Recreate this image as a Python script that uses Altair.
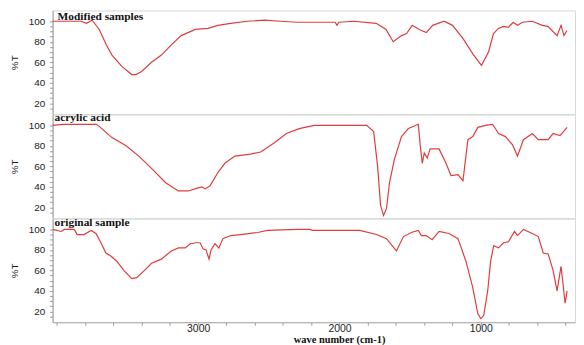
import altair as alt
import pandas as pd

# ---- data (wavenumber cm-1, %T) ----
modified_wn = [4030, 3830, 3790, 3750, 3700, 3650, 3610, 3540, 3470, 3440, 3400, 3330, 3260, 3190,
               3120, 3020, 2930, 2860, 2770, 2650, 2530, 2420, 2300, 2030, 2018, 2005, 1900, 1740,
               1670, 1620, 1560, 1525, 1485, 1435, 1385, 1340, 1260, 1200, 1125, 1055, 995, 945,
               910, 875, 840, 805, 770, 740, 705, 635, 565, 525, 460, 432, 411, 390]
modified_t = [100, 100, 98, 101, 92, 77, 67, 56, 48, 48, 51, 60, 67, 77,
              86, 92, 93, 96, 98, 100, 101, 100, 99, 99, 96, 99, 100, 98,
              92, 80, 86, 88, 96, 92, 89, 96, 100, 96, 83, 68, 57, 70,
              88, 93, 95, 94, 99, 96, 99, 100, 96, 95, 86, 96, 86, 91]

acrylic_wn = [4030, 3960, 3720, 3700, 3610, 3510, 3420, 3330, 3230, 3140, 3070, 3000, 2972, 2951,
              2916, 2860, 2811, 2740, 2628, 2558, 2460, 2376, 2298, 2277, 2179, 1807, 1758, 1730,
              1709, 1688, 1667, 1646, 1611, 1561, 1512, 1442, 1428, 1414, 1400, 1379, 1358, 1330,
              1295, 1246, 1211, 1161, 1126, 1091, 1056, 1021, 965, 916, 874, 825, 775, 740, 698,
              635, 593, 523, 488, 439, 389]
acrylic_t = [100, 101, 101, 99, 88, 80, 70, 58, 44, 36, 36, 39, 40, 38,
             41, 54, 63, 70, 72, 74, 83, 92, 96, 97, 100, 100, 94, 60,
             22, 12, 19, 44, 67, 89, 97, 101, 80, 63, 73, 68, 77, 77,
             77, 63, 51, 52, 46, 86, 89, 98, 100, 101, 92, 89, 81, 70, 86,
             92, 86, 86, 92, 90, 98]

original_wn = [4030, 3969, 3948, 3877, 3856, 3807, 3758, 3723, 3688, 3653, 3618, 3576, 3526, 3470,
               3435, 3372, 3330, 3260, 3190, 3140, 3091, 3056, 3014, 2986, 2965, 2944, 2923, 2909,
               2881, 2853, 2825, 2769, 2698, 2579, 2509, 2298, 2207, 2193, 1856, 1737, 1667, 1597,
               1547, 1491, 1442, 1421, 1386, 1344, 1295, 1225, 1161, 1105, 1056, 1021, 1000, 979,
               951, 930, 909, 874, 839, 804, 761, 740, 698, 635, 593, 558, 523, 488, 460, 432,
               418, 403, 389]
original_t = [100, 98, 100, 100, 95, 95, 99, 96, 87, 77, 74, 69, 60, 52,
              53, 61, 67, 71, 79, 82, 82, 86, 87, 87, 81, 80, 71, 80,
              86, 82, 91, 94, 95, 97, 99, 100, 100, 99, 99, 95, 91, 79,
              93, 97, 99, 94, 94, 90, 98, 96, 91, 69, 43, 18, 13, 16,
              40, 69, 84, 82, 87, 88, 98, 94, 100, 96, 93, 77, 76, 60, 40, 64,
              47, 28, 40]

panel_titles = ["Modified samples", "acrylic acid", "original sample"]
x_tick_values = list(range(4000, 300, -200))
y_tick_values = list(range(15, 105, 5))

X_DOMAIN = [4030, 333]
Y_DOMAIN = [9.5, 110.5]
LINE_COLOR = "#e03c3c"
W, H = 527, 104.5


def panel(wn, t, title, tx, ty, bottom):
    df = pd.DataFrame({"wn": wn, "T": t})
    if bottom:
        xaxis = alt.Axis(
            values=x_tick_values, format="d",
            labelExpr="(datum.value == 3000 || datum.value == 2000 || datum.value == 1000) ? datum.label : ''",
            labelOverlap=False, labelFont="Liberation Sans", labelFontSize=10.5, labelColor="#222",
            tickSize=3, tickColor="#999", domainColor="#aaa", labelPadding=-2, grid=False,
            title="wave number  (cm-1)", titleFont="Liberation Serif", titleFontWeight="bold",
            titleFontSize=10.5, titleColor="#111", titleX=289, titleY=17.5,
            titleAlign="center", titleBaseline="middle",
        )
    else:
        xaxis = None
    yaxis = alt.Axis(
        values=y_tick_values,
        labelExpr="(datum.value % 20 == 0 && datum.value >= 20 && datum.value <= 100) ? datum.label : ''",
        labelOverlap=False, labelFont="Liberation Sans", labelFontSize=10, labelColor="#222",
        tickSize=3, tickColor="#999", domainColor="#999", labelPadding=5, grid=False,
        title="%T", titleFont="Liberation Sans", titleFontSize=10, titleFontWeight="normal",
        titleColor="#222", titlePadding=9,
    )
    line = alt.Chart(df).mark_line(color=LINE_COLOR, strokeWidth=1.2, clip=True).encode(
        x=alt.X("wn:Q", scale=alt.Scale(domain=X_DOMAIN, nice=False, zero=False), axis=xaxis),
        y=alt.Y("T:Q", scale=alt.Scale(domain=Y_DOMAIN, nice=False, zero=False), axis=yaxis),
    )
    label = alt.Chart(pd.DataFrame({"label": [title]})).mark_text(
        align="left", baseline="middle", font="Liberation Serif", fontWeight="bold",
        fontSize=11.5, color="#111",
    ).encode(text="label:N", x=alt.value(tx), y=alt.value(ty))
    return alt.layer(line, label).properties(width=W, height=H)


p1 = panel(modified_wn, modified_t, panel_titles[0], 5, 7, False)
p2 = panel(acrylic_wn, acrylic_t, panel_titles[1], 2, 3, False)
p3 = panel(original_wn, original_t, panel_titles[2], 2, 4, True)

chart = alt.vconcat(p1, p2, p3, spacing=0, bounds="flush").properties(
    padding={"left": 0, "top": 0, "right": 0, "bottom": 0}
).configure_view(stroke="#d5dad5", strokeWidth=1)

chart.save("out.html", embed_options={"renderer": "svg", "actions": False})
